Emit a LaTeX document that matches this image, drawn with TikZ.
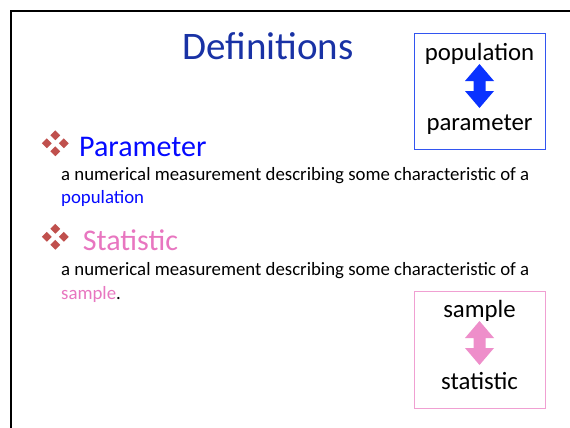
\documentclass[tikz,border=0pt]{standalone}
\usepackage{fontspec}
\setmainfont{Carlito}
\definecolor{titleblue}{RGB}{25,50,165}
\definecolor{parblue}{RGB}{5,10,255}
\definecolor{statpink}{RGB}{232,118,192}
\definecolor{bulletred}{RGB}{192,80,77}
\definecolor{boxblue}{RGB}{50,85,240}
\definecolor{arrowblue}{RGB}{10,50,255}
\definecolor{boxpink}{RGB}{240,160,210}
\definecolor{arrowpink}{RGB}{238,142,202}
\tikzset{
  bodytext/.style={anchor=base west, inner sep=0pt, font=\fontsize{18.8}{22}\selectfont},
  headtext/.style={anchor=base west, inner sep=0pt, font=\fontsize{30}{34}\selectfont},
  boxtext/.style={anchor=base, inner sep=0pt, font=\fontsize{24.8}{28}\selectfont},
  diam/.style={fill=bulletred},
}
\newcommand{\mybullet}[2]{%
  \foreach \dx/\dy in {0/-8,-8.5/0,8.5/0,0/8}{%
    \fill[diam] ({#1+\dx},{#2+\dy-4.9}) -- ({#1+\dx+4.9},{#2+\dy}) -- ({#1+\dx},{#2+\dy+4.9}) -- ({#1+\dx-4.9},{#2+\dy}) -- cycle;}}
\newcommand{\dblarrow}[4]{% x, ytop, ybottom, color
  \fill[#4] (#1,#2) -- ({#1+14.5},{#2+17}) -- ({#1+6},{#2+17}) -- ({#1+6},{#3-17}) -- ({#1+14.5},{#3-17}) -- (#1,#3) -- ({#1-14.5},{#3-17}) -- ({#1-6},{#3-17}) -- ({#1-6},{#2+17}) -- ({#1-14.5},{#2+17}) -- cycle;}
\begin{document}
\begin{tikzpicture}[x=1pt,y=-1pt]
\useasboundingbox (0,0) rectangle (570,428);
\fill[white] (0,0) rectangle (570,428);
% slide frame
\draw[line width=2.5pt] (11,430) -- (11,11) -- (572,11);
% title
\node[anchor=base, inner sep=0pt, text=titleblue, font=\fontsize{39}{44}\selectfont] (title) at (268,59.3) {Definitions};
% blue box
\draw[boxblue, line width=1pt] (414,33.3) rectangle (545.5,149.3);
\node[boxtext] (pop) at (479.5,60) {population};
\node[boxtext] (par) at (479.5,130) {parameter};
\dblarrow{479.5}{64}{108}{arrowblue}
% pink box
\draw[boxpink, line width=1pt] (414,291.7) rectangle (545.5,408.3);
\node[boxtext] (samp) at (479.5,317.3) {sample};
\node[boxtext] (stat) at (479.5,389.3) {statistic};
\dblarrow{479.5}{321}{365}{arrowpink}
% Parameter
\mybullet{55.3}{143.3}
\node[headtext, text=parblue] (h1) at (79,156.7) {Parameter};
\node[bodytext] (d1) at (61,180.7) {a numerical measurement describing some characteristic of a};
\node[bodytext, text=parblue] (d1b) at (61,203.3) {population};
% Statistic
\mybullet{55.3}{236.8}
\node[headtext, text=statpink] (h2) at (82.7,250) {Statistic};
\node[bodytext] (d2) at (61,275.7) {a numerical measurement describing some characteristic of a};
\node[bodytext] (d2b) at (61,299) {\textcolor{statpink}{sample}.};
\end{tikzpicture}
\end{document}
